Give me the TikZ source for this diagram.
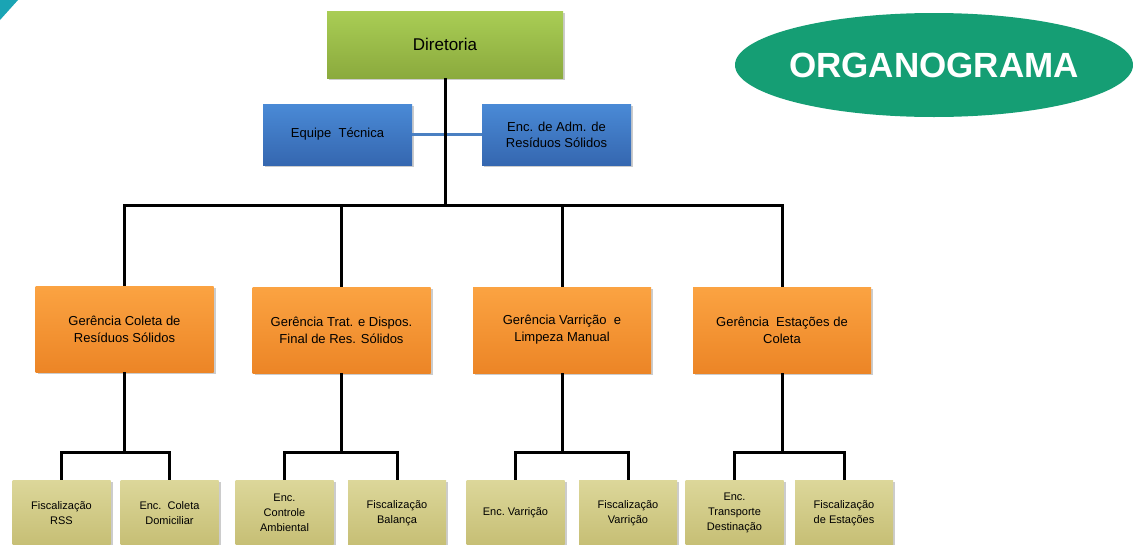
\documentclass[tikz,border=0pt]{standalone}
\usepackage{fontspec}
\setmainfont{Liberation Sans}
\usetikzlibrary{shapes.geometric,shadows}

\definecolor{verdeA}{HTML}{A9CD55}
\definecolor{verdeB}{HTML}{8BAA3D}
\definecolor{azulA}{HTML}{4A8AD6}
\definecolor{azulB}{HTML}{3567B0}
\definecolor{laranjaA}{HTML}{FBA342}
\definecolor{laranjaB}{HTML}{EC8526}
\definecolor{areiaA}{HTML}{DCD79A}
\definecolor{areiaB}{HTML}{C6BE74}
\definecolor{titulo}{HTML}{159E74}
\definecolor{canto}{HTML}{1AA4B4}
\definecolor{linhaAzul}{HTML}{4A80C2}

\tikzset{
  caixa/.style={draw=none, align=center, inner sep=2pt,
    drop shadow={opacity=0.4, shadow xshift=2pt, shadow yshift=-2pt}},
  dirbox/.style={caixa, top color=verdeA, bottom color=verdeB,
    minimum width=236, minimum height=67, font=\fontsize{17}{20}\selectfont},
  azulbox/.style={caixa, top color=azulA, bottom color=azulB,
    minimum width=149, minimum height=61, font=\fontsize{13}{16}\selectfont},
  gerbox/.style={caixa, top color=laranjaA, bottom color=laranjaB,
    minimum width=178, minimum height=86, font=\fontsize{13}{17}\selectfont},
  subbox/.style={caixa, top color=areiaA, bottom color=areiaB,
    minimum width=98, minimum height=66, font=\fontsize{11}{15}\selectfont},
  conn/.style={line width=3pt, black},
}

\begin{document}
\begin{tikzpicture}[x=1pt, y=-1pt]
  \useasboundingbox (0,0) rectangle (1133,544);

  % canto e titulo
  \fill[canto] (0,0) -- (18,0) -- (0,20) -- cycle;
  \node[ellipse, fill=titulo, minimum width=398, minimum height=104,
    inner xsep=-12pt, inner ysep=0pt, outer sep=0pt,
    text=white, font=\fontsize{35}{38}\bfseries\selectfont] (org) at (934,65) {ORGANOGRAMA};

  % nivel 1 e 2
  \node[dirbox] (dir) at (445,44.5) {Diretoria};
  \node[azulbox] (eqtec) at (337.5,134.5) {Equipe\ \ Técnica};
  \node[azulbox] (encadm) at (556.5,134.5) {Enc. de Adm. de\\Resíduos Sólidos};

  % gerencias
  \node[gerbox] (gcol) at (124.5,329) {Gerência Coleta de\\Resíduos Sólidos};
  \node[gerbox] (gtrat) at (341.5,330) {Gerência Trat. e Dispos.\\Final de Res. Sólidos};
  \node[gerbox] (gvar) at (562,330) {Gerência Varrição\ \ e\\Limpeza Manual};
  \node[gerbox] (gest) at (782,330) {Gerência\ \ Estações de\\Coleta};

  % encarregados e fiscalizacao
  \node[subbox] (fisrss) at (61.5,513) {Fiscalização\\RSS};
  \node[subbox] (enccol) at (169.5,513) {Enc.\ \ Coleta\\Domiciliar};
  \node[subbox] (encamb) at (284.5,513) {Enc.\\Controle\\Ambiental};
  \node[subbox] (fisbal) at (397,513) {Fiscalização\\Balança};
  \node[subbox] (encvar) at (515.5,513) {Enc.\ Varrição};
  \node[subbox] (fisvar) at (628,513) {Fiscalização\\Varrição};
  \node[subbox] (enctra) at (734.5,513) {Enc.\\Transporte\\Destinação};
  \node[subbox] (fisest) at (844,513) {Fiscalização\\de Estações};

  % ligacoes
  \coordinate (barra) at (445,205);
  \coordinate (j1) at (124.5,452);
  \coordinate (j2) at (341.5,452);
  \coordinate (j3) at (562,452);
  \coordinate (j4) at (782,452);

  \draw[line width=3pt, linhaAzul] (eqtec.east) -- (encadm.west);
  \draw[conn] (dir.south) -- (barra);
  \draw[conn] (gcol.north) |- (barra) -| (gest.north);
  \draw[conn] (gtrat.north) -- (gtrat.north |- barra);
  \draw[conn] (gvar.north) -- (gvar.north |- barra);

  \draw[conn] (gcol.south) -- (j1);
  \draw[conn] (fisrss.north) |- (j1) -| (enccol.north);
  \draw[conn] (gtrat.south) -- (j2);
  \draw[conn] (encamb.north) |- (j2) -| (fisbal.north);
  \draw[conn] (gvar.south) -- (j3);
  \draw[conn] (encvar.north) |- (j3) -| (fisvar.north);
  \draw[conn] (gest.south) -- (j4);
  \draw[conn] (enctra.north) |- (j4) -| (fisest.north);
\end{tikzpicture}
\end{document}
